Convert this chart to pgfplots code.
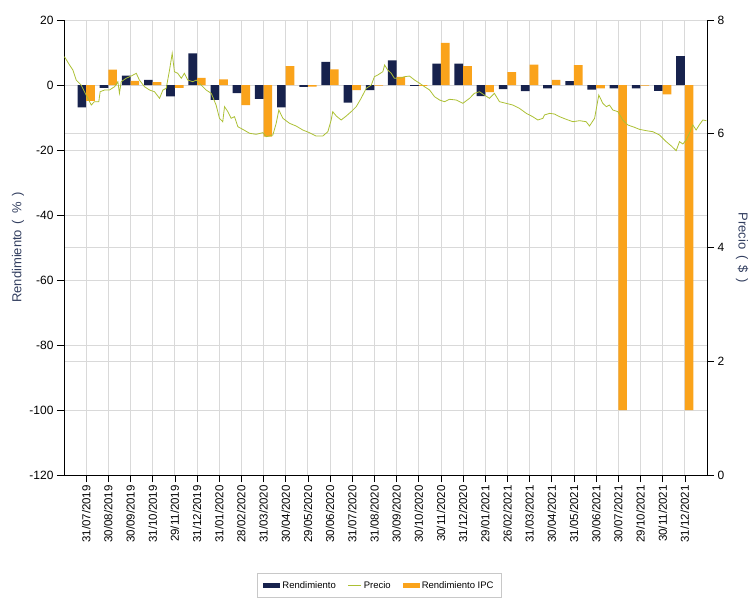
\documentclass[border=0pt]{standalone}
\usepackage{fontspec}
\setmainfont{Liberation Sans}
\usepackage{pgfplots}
\pgfplotsset{compat=1.18}
\definecolor{navy}{RGB}{23,34,77}
\definecolor{orng}{RGB}{250,163,27}
\definecolor{precio}{RGB}{172,192,52}
\definecolor{gridc}{RGB}{217,217,217}
\definecolor{lab}{RGB}{50,62,95}
\pgfplotsset{
  barleg/.style={legend image code/.code={\fill[##1] (0pt,-2.8pt) rectangle (17pt,2.8pt);}},
  lineleg/.style={legend image code/.code={\draw[##1] (0pt,0pt) -- (13pt,0pt);}}
}
\begin{document}
\begin{tikzpicture}
% right-axis grid (behind everything)
\begin{axis}[scale only axis, width=643pt, height=455pt,
  xmin=-1, xmax=28, ymin=0, ymax=8,
  axis line style={draw=none}, tick style={draw=none},
  xtick=\empty, ytick={0,2,...,8}, yticklabels={},
  ymajorgrids, grid style={gridc, line width=0.8pt}]
\end{axis}
% main axis with bars
\begin{axis}[name=main, scale only axis, width=643pt, height=455pt,
  xmin=-1, xmax=28, ymin=-120, ymax=20,
  axis y line*=left, axis x line*=bottom,
  ytick={-120,-100,...,20},
  xtick={0,...,27},
  xticklabels={31/07/2019,30/08/2019,30/09/2019,31/10/2019,29/11/2019,31/12/2019,31/01/2020,28/02/2020,31/03/2020,30/04/2020,29/05/2020,30/06/2020,31/07/2020,31/08/2020,30/09/2020,30/10/2020,30/11/2020,31/12/2020,29/01/2021,26/02/2021,31/03/2021,30/04/2021,31/05/2021,30/06/2021,30/07/2021,29/10/2021,30/11/2021,31/12/2021},
  xticklabel style={rotate=90, anchor=east, font=\fontsize{11.5}{12}\selectfont, inner sep=3pt},
  yticklabel style={font=\fontsize{12}{13}\selectfont},
  /pgf/number format/assume math mode=true,
  xmajorgrids, ymajorgrids,
  grid style={gridc, line width=0.8pt},
  tick align=outside, major tick length=7pt,
  tick style={black, line width=0.6pt},
  axis line style={black, line width=0.7pt},
  ylabel={Rendimiento \,(\, \% \,)},
  ylabel style={at={(axis description cs:-0.0715,0.5)}, anchor=center, rotate=0, font=\fontsize{13}{14}\selectfont, text=lab},
  ybar, bar width=0.39,
  legend columns=3,
  legend style={at={(0.4907,-0.2154)}, anchor=north, draw={rgb,255:red,200;green,200;blue,200},
    font=\fontsize{9.5}{11}\selectfont, inner xsep=6pt, inner ysep=6pt,
    /tikz/every even column/.append style={column sep=10pt}},
]
\addplot[fill=navy, draw=none, bar shift=-0.195, barleg] coordinates {
(0,-6.9) (1,-0.9) (2,2.9) (3,1.6) (4,-3.5) (5,9.7) (6,-4.6) (7,-2.5) (8,-4.3) (9,-6.9)
(10,-0.6) (11,7.1) (12,-5.4) (13,-1.6) (14,7.6) (15,-0.3) (16,6.6) (17,6.6) (18,-3.4) (19,-1.3)
(20,-1.9) (21,-1.0) (22,1.2) (23,-1.4) (24,-1.0) (25,-1.0) (26,-1.8) (27,8.9)};
\addlegendentry{Rendimiento}
\addlegendimage{precio, line width=1pt, lineleg}
\addlegendentry{Precio}
\addplot[fill=orng, draw=none, bar shift=0.195, barleg] coordinates {
(0,-4.9) (1,4.7) (2,1.3) (3,0.9) (4,-0.9) (5,2.2) (6,1.7) (7,-6.2) (8,-15.9) (9,5.8)
(10,-0.5) (11,4.8) (12,-1.6) (13,-0.2) (14,2.5) (15,-0.3) (16,13.0) (17,5.8) (18,-2.2) (19,4.0)
(20,6.3) (21,1.6) (22,6.1) (23,-1.0) (24,-100) (25,-0.2) (26,-2.9) (27,-100)};
\addlegendentry{Rendimiento IPC}
\end{axis}
% price axis
\begin{axis}[scale only axis, width=643pt, height=455pt,
  xmin=-1, xmax=28, ymin=0, ymax=8,
  axis y line*=right, axis x line=none,
  ytick={0,2,...,8},
  yticklabel style={font=\fontsize{12}{13}\selectfont},
  /pgf/number format/assume math mode=true,
  tick align=outside, major tick length=7pt,
  tick style={black, line width=0.6pt},
  axis line style={black, line width=0.7pt},
  ylabel={Precio \,(\, \$ \,)},
  ylabel style={at={(axis description cs:1.0544,0.5)}, anchor=center, rotate=180, font=\fontsize{13}{14}\selectfont, text=lab},
]
\addplot[precio, line width=0.8pt, no markers, sharp plot] coordinates {
(-0.98,7.355) (-0.75,7.209) (-0.60,7.121) (-0.45,6.945) (-0.23,6.857) (0.00,6.681) (0.23,6.505)
(0.37,6.564) (0.57,6.564) (0.63,6.739) (0.83,6.769) (1.05,6.769) (1.28,6.827) (1.43,6.915)
(1.50,6.711) (1.58,6.915) (1.80,6.975) (2.03,7.015) (2.26,7.063) (2.40,6.945) (2.63,6.827)
(2.86,6.769) (3.08,6.739) (3.31,6.623) (3.46,6.769) (3.61,6.799) (3.76,7.121) (3.88,7.414)
(3.98,7.091) (4.13,7.063) (4.29,6.975) (4.43,7.063) (4.58,6.945) (4.81,6.915) (4.96,6.945)
(5.11,6.887) (5.41,6.769) (5.64,6.711) (5.86,6.505) (6.01,6.272) (6.16,6.212) (6.24,6.476)
(6.39,6.388) (6.54,6.272) (6.69,6.300) (6.84,6.124) (7.06,6.078) (7.37,6.008) (7.67,5.990)
(7.97,6.019) (8.12,5.948) (8.42,5.978) (8.57,6.184) (8.69,6.418) (8.87,6.272) (9.17,6.184)
(9.47,6.136) (9.77,6.066) (10.07,6.019) (10.37,5.960) (10.67,5.960) (10.90,6.036) (11.05,6.242)
(11.12,6.388) (11.28,6.312) (11.50,6.242) (11.73,6.312) (11.95,6.388) (12.18,6.476) (12.40,6.623)
(12.63,6.799) (12.86,6.857) (13.00,7.003) (13.15,7.033) (13.38,7.091) (13.46,7.209) (13.60,7.121)
(13.76,7.063) (13.90,6.975) (14.13,6.975) (14.36,7.003) (14.58,7.015) (14.81,6.945) (15.04,6.887)
(15.26,6.827) (15.49,6.769) (15.71,6.652) (15.94,6.593) (16.16,6.564) (16.39,6.606) (16.69,6.593)
(16.99,6.535) (17.29,6.623) (17.51,6.711) (17.74,6.739) (17.96,6.681) (18.19,6.623) (18.41,6.711)
(18.64,6.564) (18.94,6.535) (19.24,6.505) (19.54,6.447) (19.85,6.359) (20.14,6.300) (20.37,6.242)
(20.60,6.272) (20.67,6.330) (20.90,6.359) (21.12,6.347) (21.35,6.300) (21.65,6.254) (21.95,6.212)
(22.25,6.230) (22.55,6.212) (22.70,6.136) (22.93,6.272) (23.12,6.681) (23.30,6.535) (23.46,6.476)
(23.60,6.505) (23.75,6.418) (23.98,6.388) (24.20,6.242) (24.43,6.154) (24.73,6.113) (24.95,6.078)
(25.26,6.054) (25.56,6.036) (25.86,5.978) (26.16,5.861) (26.39,5.785) (26.61,5.703) (26.76,5.861)
(26.91,5.820) (27.06,5.890) (27.21,6.008) (27.36,6.154) (27.51,6.066) (27.65,6.154) (27.81,6.242)
(27.97,6.230)};
\end{axis}
\pgfresetboundingbox
\path ([xshift=-64pt,yshift=-123pt]main.south west) rectangle ([xshift=42pt,yshift=20pt]main.north east);
\end{tikzpicture}
\end{document}
